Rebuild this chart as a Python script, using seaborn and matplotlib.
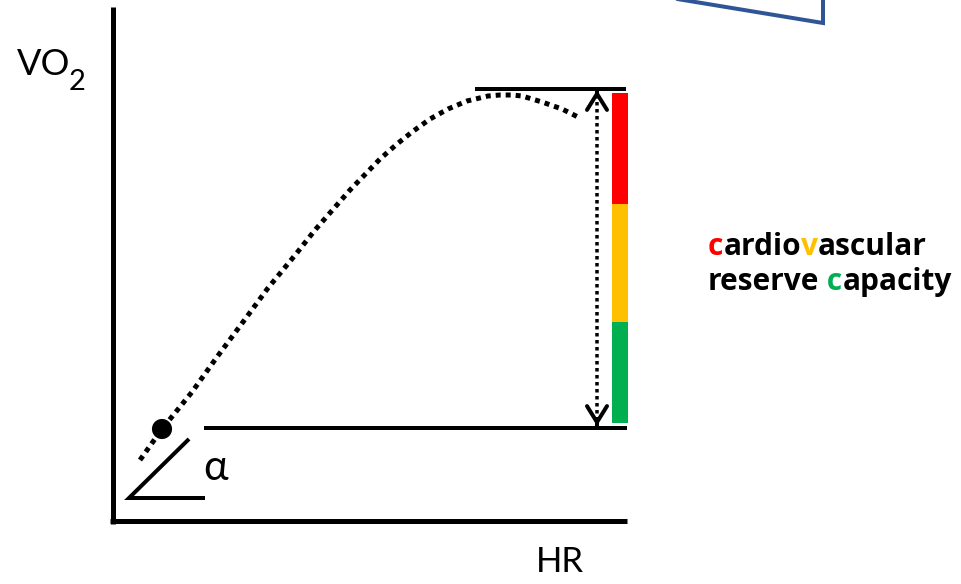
import matplotlib
matplotlib.use("Agg")
import matplotlib.pyplot as plt
import seaborn as sns

# ---- data (pixel-like schematic units) ----
hr = [140, 162, 192, 217, 243, 268, 296, 315, 350, 380, 397, 412, 430, 448, 467,
      488, 500, 512, 522, 542, 562, 578]
vo2 = [460, 429, 392, 357, 322, 288, 254, 230, 190, 159, 144, 132, 119, 109, 101,
       96, 95, 95, 96, 102, 109, 117]
rest_hr = [162]
rest_vo2 = [429]
peak_level = 89
rest_level = 428
band_top = [93, 204, 322]
band_bottom = [204, 322, 423]
band_colors = ["#FF0000", "#FFC000", "#00B050"]
label_line1 = [("c", "#FF0000"), ("ardio", "black"), ("v", "#FFC000"), ("ascular", "black")]
label_line2 = [("reserve", "black"), (" c", "#00B050"), ("apacity", "black")]

sns.set_style("white")
plt.rcParams["font.family"] = ["Lato", "DejaVu Sans"]
plt.rcParams["text.color"] = "black"

fig = plt.figure(figsize=(9.62, 5.84), dpi=100)
ax = fig.add_axes([0, 0, 1, 1])
ax.set_xlim(0, 962)
ax.set_ylim(584, 0)
ax.axis("off")

PX = 0.72  # points per pixel

# axes of the schematic
ax.plot([113, 113], [7, 523.5], color="black", lw=5 * PX, solid_capstyle="butt")
ax.plot([110.5, 627], [521, 521], color="black", lw=5 * PX, solid_capstyle="butt")

# blue shape at the top
ax.plot([653, 823, 823], [-5, 23, -5], color="#2F5597", lw=4 * PX,
        solid_joinstyle="miter")

# VO2-HR curve
sns.lineplot(x=hr, y=vo2, ax=ax, color="black", lw=5 * PX,
             linestyle=(0, (1, 1)), sort=False, estimator=None)
sns.scatterplot(x=rest_hr, y=rest_vo2, ax=ax, s=210, color="black",
                edgecolor="none", zorder=5)

# peak and rest levels
ax.hlines(peak_level, 475, 626, color="black", lw=4 * PX)
ax.hlines(rest_level, 204, 627, color="black", lw=4 * PX)

# reserve arrow
ax.plot([597, 597], [peak_level + 6, rest_level - 5], color="black",
        lw=3.5 * PX, linestyle=(0, (1, 1)))
for tip, tail in [(peak_level + 1, peak_level + 3), (rest_level - 2, rest_level - 4)]:
    ax.annotate("", xy=(597, tip), xytext=(597, tail),
                arrowprops=dict(arrowstyle="->,head_length=0.58,head_width=0.36",
                                lw=4 * PX, color="black", shrinkA=0, shrinkB=0,
                                mutation_scale=20))

# reserve capacity colour bar
ax.bar([620] * 3, [b - t for t, b in zip(band_top, band_bottom)],
       bottom=band_top, width=16, color=band_colors, linewidth=0)

# alpha angle
ax.plot([189, 129, 205], [439, 498, 498], color="black", lw=4 * PX,
        solid_joinstyle="miter", solid_capstyle="butt")
ax.text(203, 480, "α", fontsize=30, va="baseline", ha="left",
        family=["Lato", "DejaVu Sans"], color="black")

# axis labels
ax.text(17, 75, "VO", fontsize=26, va="baseline", ha="left", color="black")
ax.text(69, 90, "2", fontsize=21, va="baseline", ha="left", color="black")
ax.text(536, 572, "HR", fontsize=25, va="baseline", ha="left", color="black")


def colored_line(x, y, pieces, size=21.5):
    prev = ax.text(x, y, pieces[0][0], color=pieces[0][1], fontsize=size,
                   fontweight="bold", va="baseline", ha="left",
                   family=["Open Sans", "DejaVu Sans"])
    for s, c in pieces[1:]:
        prev = ax.annotate(s, xy=(1, 0), xycoords=prev, va="bottom", ha="left",
                           color=c, fontsize=size, fontweight="bold",
                           family=["Open Sans", "DejaVu Sans"])


colored_line(708, 255, label_line1)
colored_line(708, 290, label_line2)

fig.savefig("out.png", dpi=100)
